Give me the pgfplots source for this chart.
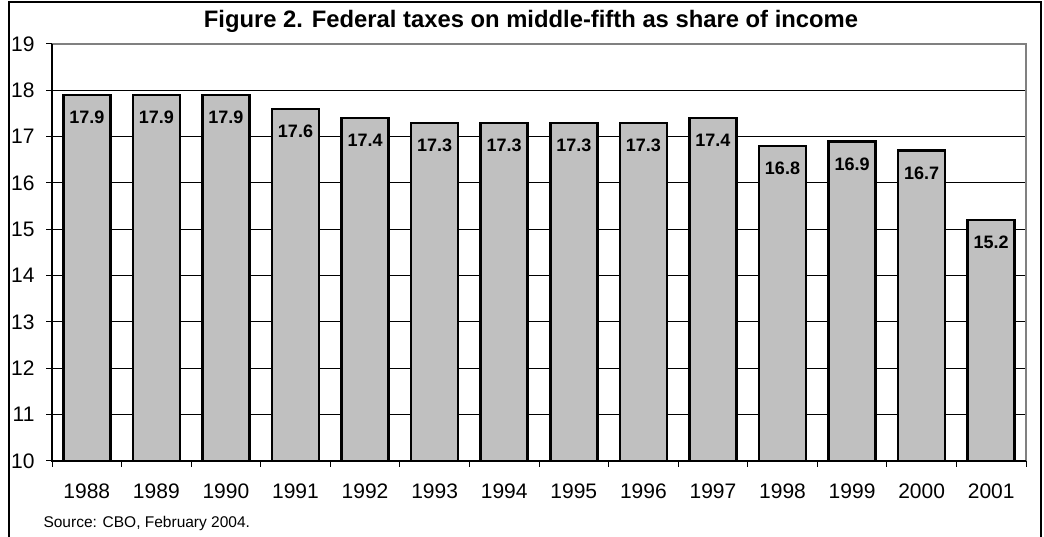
\documentclass[border=0pt]{standalone}
\usepackage{pgfplots}
\pgfplotsset{compat=1.18}
\usepackage{fontspec}
\setmainfont{Liberation Sans}
\definecolor{barfill}{RGB}{192,192,192}
\definecolor{frameg}{RGB}{128,128,128}
\begin{document}
\begin{tikzpicture}[x=1pt,y=1pt]
\useasboundingbox (0,0) rectangle (1044,537);
\draw[line width=1.5pt] (9,0) -- (9,535) -- (1041,535) -- (1041,0);
\node[font=\fontsize{23.8}{26}\selectfont\bfseries, anchor=base] at (531,509) {Figure 2. Federal taxes on middle-fifth as share of income};
\node[font=\fontsize{15.5}{18}\selectfont, anchor=base west] at (40,9) {Source: CBO, February 2004.};
\begin{axis}[
  at={(52pt,76pt)}, anchor=south west,
  scale only axis, width=974pt, height=417pt,
  ybar, bar width=47pt,
  xmin=-0.5, xmax=13.5, ymin=10, ymax=19,
  ytick={10,...,19},
  xtick={0,...,13},
  xticklabels={1988,1989,1990,1991,1992,1993,1994,1995,1996,1997,1998,1999,2000,2001},
  minor xtick={-0.5,0.5,...,13.5},
  major x tick style={draw=none},
  tick align=outside,
  xtick pos=left, ytick pos=left,
  major tick length=6pt, minor tick length=6pt,
  tick style={black, line width=1pt},
  ymajorgrids, grid style={black, line width=1pt},
  axis line style={draw=none},
  /pgf/number format/assume math mode=true,
  ticklabel style={font=\fontsize{21}{24}\selectfont},
  xticklabel style={yshift=-13pt},
  yticklabel style={xshift=-8pt},
  clip=false,
  nodes near coords={\pgfmathprintnumber[fixed,precision=1,fixed zerofill]{\pgfplotspointmeta}},
  every node near coord/.append style={font=\fontsize{18}{20}\selectfont\bfseries, anchor=north, inner sep=0pt, yshift=-15pt, /pgf/number format/assume math mode=true},
]
\addplot[fill=barfill, draw=black, line width=2.5pt] coordinates {
(0,17.9) (1,17.9) (2,17.9) (3,17.6) (4,17.4) (5,17.3) (6,17.3) (7,17.3) (8,17.3) (9,17.4) (10,16.8) (11,16.9) (12,16.7) (13,15.2)};
\draw[frameg, line width=1.5pt] (rel axis cs:0,1) -- (rel axis cs:1,1) -- (rel axis cs:1,0);
\draw[black, line width=1.5pt] (rel axis cs:0,1) -- (rel axis cs:0,0) -- (rel axis cs:1,0);
\end{axis}
\end{tikzpicture}
\end{document}
